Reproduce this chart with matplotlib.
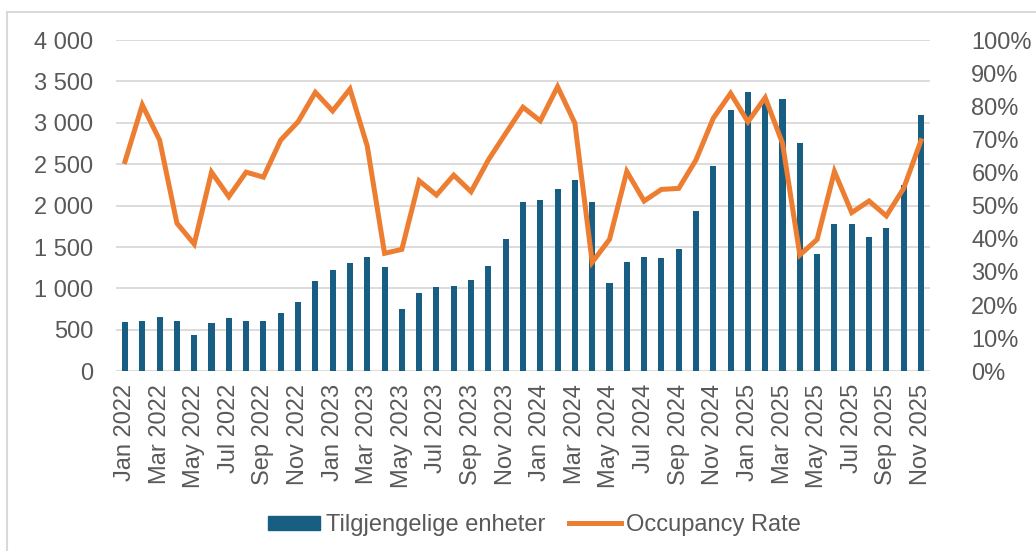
import numpy as np
import matplotlib
matplotlib.use("Agg")
import matplotlib.pyplot as plt
from matplotlib.ticker import FuncFormatter, MultipleLocator
from matplotlib.patches import Rectangle
from matplotlib.lines import Line2D

plt.rcParams['font.family'] = ['Liberation Sans', 'DejaVu Sans']

# ---- data -------------------------------------------------------------
months = ['Jan', 'Feb', 'Mar', 'Apr', 'May', 'Jun',
          'Jul', 'Aug', 'Sep', 'Oct', 'Nov', 'Dec']
labels = [f"{m} {y}" for y in range(2022, 2026) for m in months][:47]

# available units (Tilgjengelige enheter)
units = [600, 610, 655, 610, 440, 585, 645, 610, 610, 705, 835, 1090,
         1225, 1305, 1380, 1260, 750, 945, 1018, 1030, 1100, 1270, 1597, 2044,
         2068, 2200, 2310, 2044, 1066, 1320, 1380, 1368, 1477, 1935, 2479, 3155,
         3372, 3300, 3290, 2756, 1416, 1778, 1778, 1621, 1730, 2249, 3094]

# occupancy rate (%)
occupancy = [63.3, 80.4, 69.8, 44.7, 38.4, 60.1, 52.7, 60.1, 58.6, 69.8, 75.3, 84.2,
             78.6, 85.2, 68.0, 35.6, 36.8, 57.5, 53.2, 59.2, 54.2, 63.8, 71.8, 79.7,
             75.6, 85.9, 74.9, 32.9, 39.8, 60.3, 51.4, 54.9, 55.2, 63.8, 76.4, 83.9,
             75.3, 82.6, 68.8, 35.1, 39.8, 60.3, 47.9, 51.4, 46.9, 55.2, 69.6]

bar_color = '#175E82'
line_color = '#ED7D31'
text_color = '#595959'
grid_color = '#D9D9D9'

x = np.arange(len(labels))

fig = plt.figure(figsize=(10.36, 5.51), dpi=100)
ax = fig.add_axes([0.1123, 0.3262, 0.7850, 0.6012])

ax.bar(x, units, width=0.35, color=bar_color, zorder=2,
       label='Tilgjengelige enheter')
ax.set_ylim(0, 4000)
ax.set_xlim(-0.5, len(labels) - 0.5)
ax.yaxis.set_major_locator(MultipleLocator(500))
ax.yaxis.set_major_formatter(FuncFormatter(lambda v, p: f"{v:,.0f}".replace(",", " ")))
ax.grid(axis='y', color=grid_color, linewidth=1.3, zorder=0)
ax.set_axisbelow(True)
ax.set_xticks(x[::2])
ax.set_xticklabels(labels[::2], rotation=90)
ax.tick_params(axis='y', length=0, pad=16.5, labelsize=17, labelcolor=text_color)
ax.tick_params(axis='x', length=0, pad=9, labelsize=17, labelcolor=text_color)
for s in ax.spines.values():
    s.set_visible(False)

ax2 = ax.twinx()
ax2.plot(x, np.array(occupancy) / 100, color=line_color, linewidth=3.6,
         solid_joinstyle='miter', label='Occupancy Rate', zorder=3)
ax2.set_ylim(0, 1)
ax2.yaxis.set_major_locator(MultipleLocator(0.1))
ax2.yaxis.set_major_formatter(FuncFormatter(lambda v, p: f"{v * 100:.0f}%"))
ax2.tick_params(axis='y', length=0, pad=30, labelsize=17, labelcolor=text_color)
for s in ax2.spines.values():
    s.set_visible(False)

# legend below the chart
handles = [Rectangle((0, 0), 1, 1, color=bar_color),
           Line2D([0], [0], color=line_color, linewidth=3.6)]
leg = fig.legend(handles, ['Tilgjengelige enheter', 'Occupancy Rate'],
                 loc='center', bbox_to_anchor=(0.516, 0.047), ncol=2,
                 frameon=False, fontsize=17, handlelength=2.2,
                 handleheight=0.55, handletextpad=0.25, columnspacing=1.0)
for t in leg.get_texts():
    t.set_color(text_color)

# chart frame (partly cropped in the original)
fig.add_artist(Rectangle((7 / 1036, -0.1), 2.0, 1.1 - 12 / 551,
                         transform=fig.transFigure, fill=False,
                         edgecolor=grid_color, linewidth=1.5))

fig.savefig('out.png', dpi=100)
